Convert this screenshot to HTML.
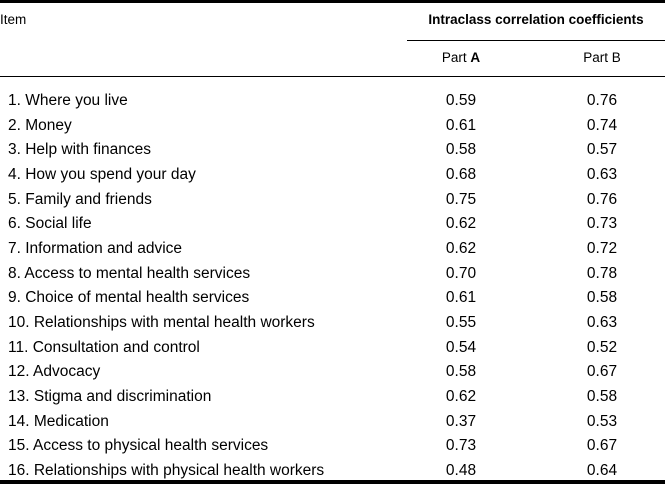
<!DOCTYPE html>
<html><head><meta charset="utf-8"><style>
body{margin:0;width:665px;height:493px;background:#fff;position:relative;font-family:"Liberation Sans",sans-serif;color:#000;font-size:15.5px;overflow:hidden}
.l{position:absolute;background:#000;left:0;width:665px}
.t{position:absolute;white-space:nowrap;line-height:16px}
.c{transform:translateX(-50%)}
</style></head><body>
<div class="l" style="top:0;height:3px"></div>
<div class="t" style="left:0;top:12px;font-size:13.5px">Item</div>
<div class="t c" style="left:536px;top:12px;font-weight:bold;font-size:13.5px">Intraclass correlation coefficients</div>
<div class="l" style="top:40px;height:1px;left:407px;width:258px"></div>
<div class="t c" style="left:461px;top:50px;font-size:13.5px">Part <b>A</b></div>
<div class="t c" style="left:602px;top:50px;font-size:13.5px">Part B</div>
<div class="l" style="top:76px;height:1px"></div>
<div id="rows"></div>
<div class="l" style="top:480px;height:4px"></div>
<script>
const items=["1. Where you live","2. Money","3. Help with finances","4. How you spend your day","5. Family and friends","6. Social life","7. Information and advice","8. Access to mental health services","9. Choice of mental health services","10. Relationships with mental health workers","11. Consultation and control","12. Advocacy","13. Stigma and discrimination","14. Medication","15. Access to physical health services","16. Relationships with physical health workers"];
const partA=["0.59","0.61","0.58","0.68","0.75","0.62","0.62","0.70","0.61","0.55","0.54","0.58","0.62","0.37","0.73","0.48"];
const partB=["0.76","0.74","0.57","0.63","0.76","0.73","0.72","0.78","0.58","0.63","0.52","0.67","0.58","0.53","0.67","0.64"];
const rows=document.getElementById('rows');
items.forEach((it,i)=>{
 const y=93+i*24.67;
 const a=document.createElement('div');a.className='t';a.style.left='8px';a.style.top=y+'px';a.textContent=it;
 
 
 rows.appendChild(a);
 const b=document.createElement('div');b.className='t c';b.style.left='461px';b.style.top=y+'px';b.textContent=partA[i];
 
 
 rows.appendChild(b);
 const c=document.createElement('div');c.className='t c';c.style.left='602px';c.style.top=y+'px';c.textContent=partB[i];
 
 
 rows.appendChild(c);
});
</script>
</body></html>
